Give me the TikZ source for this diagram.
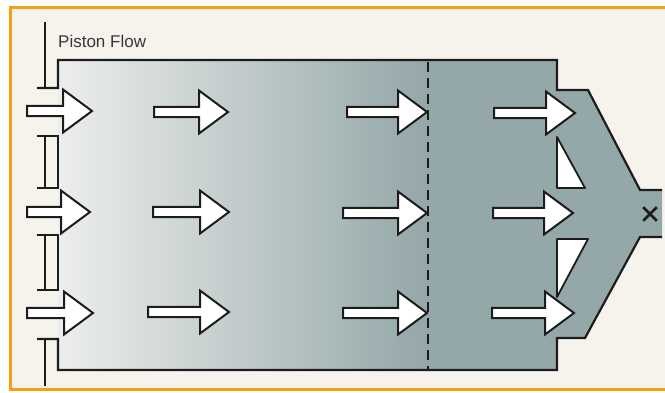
\documentclass[tikz,border=0pt]{standalone}
\usepackage{fontspec}
\setsansfont{Liberation Sans}
\usetikzlibrary{shapes.misc}
\definecolor{pfpaper}{RGB}{246,243,237}
\definecolor{pfframe}{RGB}{245,160,20}
\definecolor{pflight}{RGB}{236,238,235}
\definecolor{pfdark}{RGB}{148,167,169}
\definecolor{pfink}{RGB}{28,28,28}
\definecolor{pftext}{RGB}{55,55,55}

\begin{document}
\begin{tikzpicture}[
    x=1pt, y=-1pt,
    font=\sffamily,
    % Styles
    frame/.style={draw=pfframe, line width=3pt},
    wall/.style={draw=pfink, line width=2.2pt, line join=miter},
    arrowbody/.style={draw=pfink, fill=white, line width=2pt, line join=miter},
    baffle/.style={draw=pfink, fill=white, line width=1.8pt, line join=round},
    front/.style={draw=pfink, line width=2.4pt, dash pattern=on 10pt off 6pt},
    outlet/.style={draw=pfink, cross out, line width=2.6pt, minimum size=11pt, inner sep=0pt},
    % block arrow, drawn from its tip; the value is the full length
    pics/flowarrow/.style={code={
        \draw[arrowbody] (0,0) -- (-29,-21.5) -- (-29,-5.2) -- (-#1,-5.2)
            -- (-#1,5.2) -- (-29,5.2) -- (-29,21.5) -- cycle;
    }}
]
\useasboundingbox (0,0) rectangle (665,392);

% ----------------------------------------------------
% Paper and frame
% ----------------------------------------------------
\fill[pfpaper] (10,7) rectangle (665,389);
\draw[frame] (665,7) -- (10,7) -- (10,389) -- (665,389);

\node[anchor=base west, inner sep=0pt, text=pftext, font=\sffamily\fontsize{17}{20}\selectfont] (title) at (58,47) {Piston Flow};

% ----------------------------------------------------
% Vessel filling
% ----------------------------------------------------
\shade[left color=pflight, right color=pfdark] (58,60) rectangle (428,370);
\fill[pfdark] (428,60) -- (557,60) -- (557,90) -- (588,90) -- (640,190) -- (662,190)
    -- (662,237) -- (640,237) -- (585,338) -- (557,338) -- (557,370) -- (428,370) -- cycle;

% ----------------------------------------------------
% Walls
% ----------------------------------------------------
\draw[wall] (37,88) -- (58,88) -- (58,60) -- (557,60) -- (557,90) -- (588,90) -- (640,190) -- (662,190);
\draw[wall] (662,237) -- (640,237) -- (585,338) -- (557,338) -- (557,370) -- (58,370) -- (58,339) -- (37,339);

% Inlet slots
\draw[wall] (45,22) -- (45,88);
\draw[wall] (37,136) -- (58,136) -- (58,188) -- (37,188);
\draw[wall] (45,136) -- (45,188);
\draw[wall] (37,235) -- (58,235) -- (58,290) -- (37,290);
\draw[wall] (45,235) -- (45,290);
\draw[wall] (45,339) -- (45,386);

% Outlet baffles
\draw[baffle] (557,137) -- (557,188) -- (585,188) -- cycle;
\draw[baffle] (557,239) -- (588,239) -- (557,297) -- cycle;

% Reaction front
\draw[front] (428,62) -- (428,370);

% ----------------------------------------------------
% Flow arrows
% ----------------------------------------------------
\pic (a11) at (92,111) {flowarrow=65};
\pic (a21) at (90,212) {flowarrow=63};
\pic (a31) at (93,313) {flowarrow=66};

\pic (a12) at (228,112) {flowarrow=74};
\pic (a22) at (229,212) {flowarrow=76};
\pic (a32) at (229,312) {flowarrow=81};

\pic (a13) at (427,112) {flowarrow=80};
\pic (a23) at (427,213) {flowarrow=84};
\pic (a33) at (427,313) {flowarrow=84};

\pic (a14) at (575,113) {flowarrow=81};
\pic (a24) at (573,213) {flowarrow=80};
\pic (a34) at (574,313) {flowarrow=82};

% Exit point
\node[outlet] (exit) at (650,214) {};

\end{tikzpicture}
\end{document}
